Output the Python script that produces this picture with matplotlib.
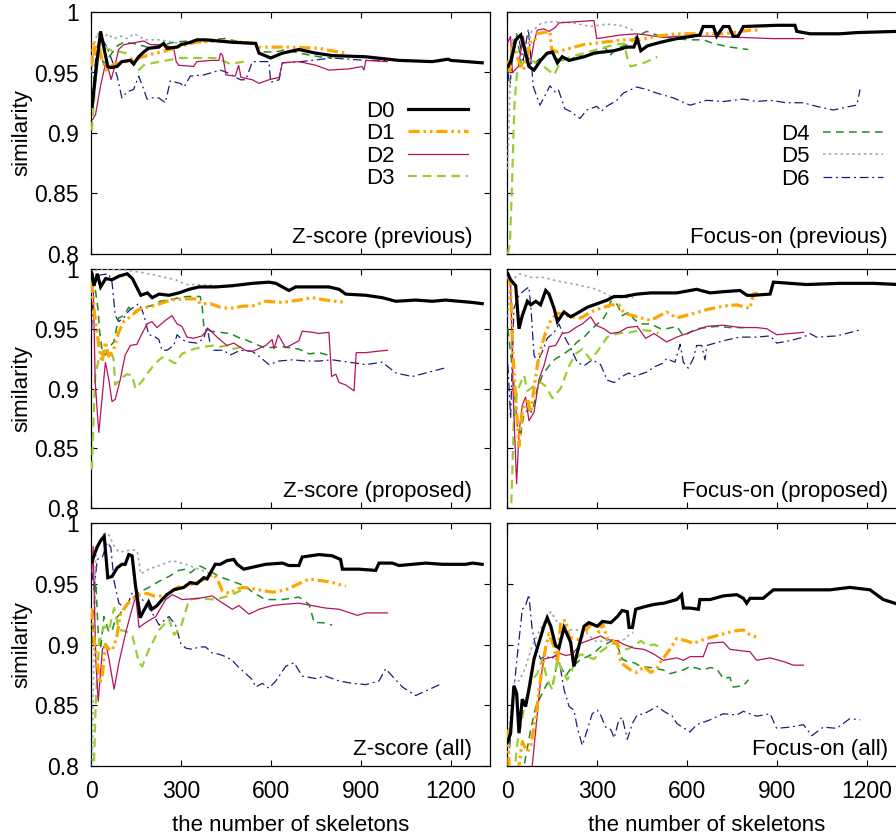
import matplotlib
matplotlib.use("Agg")
import matplotlib.pyplot as plt
from matplotlib.lines import Line2D

plt.rcParams['font.family'] = ['Liberation Sans', 'DejaVu Sans']
plt.rcParams['font.size'] = 16

# ---------------- data: Z-score (previous) ----------------
zprev_d0_x = [4, 18, 32, 45, 56, 64, 87, 103, 131, 142, 159, 176, 192, 226, 242, 253, 287, 300, 332, 353, 382, 471, 549, 560, 599, 638, 693, 749, 804, 916, 1027, 1138, 1190, 1200, 1304]
zprev_d0_y = [0.922, 0.955, 0.984, 0.968, 0.955, 0.954, 0.955, 0.959, 0.960, 0.957, 0.963, 0.967, 0.970, 0.971, 0.974, 0.970, 0.971, 0.973, 0.975, 0.977, 0.977, 0.975, 0.974, 0.966, 0.962, 0.966, 0.969, 0.966, 0.964, 0.963, 0.960, 0.959, 0.961, 0.960, 0.958]
zprev_d1_x = [2, 8, 15, 25, 35, 50, 65, 80, 100, 130, 160, 200, 250, 300, 350, 420, 500, 550, 560, 650, 760, 800, 850]
zprev_d1_y = [0.955, 0.975, 0.965, 0.975, 0.962, 0.952, 0.955, 0.957, 0.958, 0.960, 0.962, 0.965, 0.968, 0.972, 0.975, 0.976, 0.975, 0.974, 0.971, 0.971, 0.970, 0.968, 0.966]
zprev_d2_x = [5, 15, 31, 48, 59, 67, 81, 92, 109, 131, 153, 176, 198, 214, 242, 276, 284, 292, 342, 353, 403, 426, 432, 439, 450, 481, 492, 500, 538, 560, 593, 627, 638, 693, 749, 793, 860, 904, 910, 916, 988]
zprev_d2_y = [0.911, 0.915, 0.938, 0.957, 0.952, 0.944, 0.957, 0.969, 0.973, 0.974, 0.975, 0.976, 0.973, 0.973, 0.973, 0.970, 0.959, 0.956, 0.955, 0.959, 0.960, 0.960, 0.966, 0.964, 0.948, 0.947, 0.956, 0.946, 0.944, 0.941, 0.944, 0.946, 0.958, 0.959, 0.956, 0.952, 0.953, 0.955, 0.952, 0.960, 0.959]
zprev_d3_x = [3, 15, 27, 45, 70, 98, 116, 131, 159, 176, 209, 253, 298, 360, 420, 464, 509]
zprev_d3_y = [0.902, 0.945, 0.968, 0.971, 0.968, 0.967, 0.966, 0.963, 0.952, 0.956, 0.958, 0.960, 0.962, 0.962, 0.962, 0.957, 0.959]
zprev_d4_x = [3, 15, 26, 42, 64, 87, 109, 142, 187, 231, 276, 320, 376, 449, 500, 549, 560, 616, 649, 693, 760, 804]
zprev_d4_y = [0.920, 0.955, 0.972, 0.957, 0.964, 0.972, 0.975, 0.974, 0.971, 0.972, 0.975, 0.976, 0.977, 0.978, 0.975, 0.974, 0.967, 0.967, 0.969, 0.966, 0.963, 0.962]
zprev_d5_x = [3, 12, 22, 35, 55, 75, 100, 120, 143, 182, 230, 293, 350, 420]
zprev_d5_y = [0.950, 0.975, 0.983, 0.975, 0.982, 0.978, 0.980, 0.978, 0.982, 0.977, 0.977, 0.974, 0.975, 0.976]
zprev_d6_x = [3, 15, 31, 53, 70, 87, 103, 120, 142, 159, 170, 187, 200, 226, 248, 264, 298, 310, 331, 376, 431, 453, 498, 516, 538, 593, 599, 627, 638, 700, 804, 916, 1027, 1160]
zprev_d6_y = [0.925, 0.960, 0.981, 0.971, 0.960, 0.947, 0.929, 0.934, 0.936, 0.947, 0.940, 0.928, 0.929, 0.929, 0.925, 0.943, 0.941, 0.938, 0.947, 0.948, 0.952, 0.950, 0.944, 0.944, 0.959, 0.959, 0.942, 0.944, 0.958, 0.959, 0.962, 0.960, 0.960, 0.959]

# ---------------- data: Focus-on (previous) ----------------
fprev_d0_x = [3, 14, 29, 46, 57, 73, 90, 112, 134, 151, 168, 184, 207, 223, 257, 290, 323, 357, 401, 423, 434, 446, 468, 512, 566, 643, 654, 688, 699, 721, 740, 754, 770, 788, 899, 960, 966, 1010, 1110, 1166, 1305]
fprev_d0_y = [0.955, 0.960, 0.977, 0.981, 0.971, 0.955, 0.952, 0.960, 0.966, 0.967, 0.958, 0.963, 0.960, 0.961, 0.963, 0.966, 0.967, 0.968, 0.971, 0.971, 0.978, 0.968, 0.972, 0.975, 0.978, 0.981, 0.988, 0.988, 0.980, 0.988, 0.988, 0.980, 0.980, 0.988, 0.989, 0.989, 0.984, 0.982, 0.982, 0.983, 0.984]
fprev_d1_x = [3, 10, 21, 38, 54, 66, 77, 90, 101, 120, 143, 149, 166, 210, 254, 321, 388, 443, 499, 566, 654, 721, 810, 843]
fprev_d1_y = [0.960, 0.951, 0.975, 0.960, 0.952, 0.960, 0.975, 0.975, 0.982, 0.983, 0.984, 0.969, 0.967, 0.970, 0.973, 0.975, 0.977, 0.977, 0.980, 0.982, 0.982, 0.982, 0.985, 0.985]
fprev_d2_x = [3, 12, 18, 38, 54, 68, 77, 90, 101, 123, 140, 160, 173, 232, 290, 299, 379, 434, 523, 566, 666, 777, 888, 988]
fprev_d2_y = [0.975, 0.980, 0.950, 0.955, 0.980, 0.958, 0.956, 0.975, 0.985, 0.986, 0.984, 0.987, 0.991, 0.992, 0.993, 0.978, 0.981, 0.982, 0.979, 0.980, 0.980, 0.979, 0.978, 0.978]
fprev_d3_x = [3, 10, 17, 25, 34, 57, 90, 123, 157, 179, 212, 257, 301, 357, 390, 401, 412, 457, 501]
fprev_d3_y = [0.800, 0.810, 0.860, 0.925, 0.952, 0.959, 0.959, 0.955, 0.948, 0.959, 0.963, 0.966, 0.969, 0.973, 0.974, 0.962, 0.955, 0.958, 0.963]
fprev_d4_x = [3, 12, 32, 49, 71, 93, 121, 143, 166, 210, 232, 266, 299, 327, 343, 366, 410, 432, 466, 499, 554, 610, 654, 688, 743, 804]
fprev_d4_y = [0.950, 0.963, 0.982, 0.955, 0.962, 0.958, 0.964, 0.966, 0.961, 0.960, 0.964, 0.963, 0.966, 0.971, 0.964, 0.970, 0.974, 0.980, 0.984, 0.981, 0.978, 0.977, 0.977, 0.974, 0.971, 0.969]
fprev_d5_x = [2, 6, 12, 20, 32, 50, 66, 82, 116, 154, 221, 277, 332, 377, 421]
fprev_d5_y = [0.870, 0.900, 0.960, 0.978, 0.980, 0.975, 0.969, 0.984, 0.991, 0.992, 0.991, 0.988, 0.990, 0.989, 0.985]
fprev_d6_x = [3, 10, 21, 38, 54, 71, 82, 88, 110, 127, 143, 160, 171, 193, 210, 243, 266, 299, 315, 332, 366, 388, 432, 466, 499, 554, 610, 666, 721, 788, 832, 877, 932, 988, 1032, 1088, 1143, 1166, 1177]
fprev_d6_y = [0.950, 0.938, 0.975, 0.980, 0.960, 0.986, 0.955, 0.938, 0.923, 0.931, 0.939, 0.934, 0.936, 0.920, 0.918, 0.912, 0.919, 0.922, 0.918, 0.922, 0.927, 0.933, 0.938, 0.936, 0.933, 0.929, 0.923, 0.927, 0.926, 0.928, 0.926, 0.927, 0.925, 0.925, 0.922, 0.919, 0.922, 0.923, 0.936]

# ---------------- data: Z-score (proposed) ----------------
zprop_d0_x = [2, 10, 21, 32, 49, 70, 93, 121, 138, 166, 188, 204, 227, 260, 293, 327, 360, 416, 471, 538, 593, 616, 638, 660, 682, 749, 793, 827, 849, 916, 971, 1016, 1082, 1138, 1182, 1227, 1271, 1304]
zprop_d0_y = [0.997, 0.986, 0.996, 0.985, 0.992, 0.991, 0.994, 0.996, 0.992, 0.978, 0.980, 0.976, 0.979, 0.978, 0.980, 0.983, 0.985, 0.985, 0.986, 0.988, 0.989, 0.988, 0.985, 0.982, 0.985, 0.985, 0.985, 0.983, 0.979, 0.978, 0.976, 0.973, 0.974, 0.973, 0.974, 0.973, 0.972, 0.971]
zprop_d1_x = [3, 9, 11, 20, 29, 37, 48, 59, 76, 92, 109, 131, 159, 187, 220, 264, 309, 353, 364, 398, 431, 464, 509, 538, 582, 638, 693, 738, 782, 849]
zprop_d1_y = [0.990, 0.972, 0.964, 0.947, 0.931, 0.922, 0.939, 0.927, 0.933, 0.947, 0.956, 0.960, 0.966, 0.968, 0.970, 0.974, 0.975, 0.975, 0.971, 0.971, 0.968, 0.967, 0.969, 0.969, 0.973, 0.972, 0.974, 0.976, 0.974, 0.972]
zprop_d2_x = [3, 7, 14, 26, 37, 48, 59, 70, 81, 98, 114, 131, 153, 170, 187, 203, 220, 248, 270, 287, 303, 320, 342, 370, 392, 420, 453, 476, 514, 538, 582, 604, 610, 624, 649, 671, 693, 704, 738, 760, 793, 802, 816, 827, 849, 877, 884, 916, 949, 988]
zprop_d2_y = [0.998, 0.995, 0.905, 0.863, 0.892, 0.922, 0.908, 0.889, 0.891, 0.908, 0.928, 0.936, 0.937, 0.946, 0.954, 0.956, 0.951, 0.957, 0.961, 0.954, 0.952, 0.943, 0.942, 0.944, 0.950, 0.943, 0.936, 0.938, 0.932, 0.931, 0.936, 0.941, 0.933, 0.945, 0.934, 0.937, 0.940, 0.948, 0.947, 0.946, 0.947, 0.910, 0.912, 0.905, 0.903, 0.898, 0.930, 0.930, 0.931, 0.932]
zprop_d3_x = [3, 8, 14, 26, 37, 48, 64, 75, 81, 98, 120, 137, 148, 170, 192, 214, 237, 259, 281, 303, 342, 376, 409, 431, 453, 471, 504]
zprop_d3_y = [0.832, 0.870, 0.910, 0.925, 0.930, 0.932, 0.932, 0.925, 0.903, 0.908, 0.912, 0.911, 0.900, 0.906, 0.914, 0.921, 0.926, 0.924, 0.921, 0.929, 0.933, 0.935, 0.936, 0.935, 0.936, 0.933, 0.935]
zprop_d4_x = [3, 7, 18, 24, 29, 37, 48, 59, 76, 92, 109, 126, 142, 170, 198, 231, 276, 320, 364, 370, 376, 398, 431, 464, 498, 514, 549, 582, 638, 693, 727, 760, 804]
zprop_d4_y = [0.990, 0.997, 0.976, 0.965, 0.947, 0.932, 0.928, 0.934, 0.939, 0.959, 0.961, 0.968, 0.964, 0.968, 0.969, 0.973, 0.975, 0.977, 0.977, 0.970, 0.952, 0.948, 0.947, 0.946, 0.942, 0.941, 0.937, 0.934, 0.935, 0.933, 0.929, 0.930, 0.927]
zprop_d5_x = [2, 5, 10, 27, 60, 116, 171, 227, 282, 316, 360, 416]
zprop_d5_y = [0.975, 0.995, 0.998, 1.000, 1.000, 0.999, 0.997, 0.994, 0.991, 0.987, 0.987, 0.986]
zprop_d6_x = [2, 8, 14, 31, 59, 70, 81, 92, 109, 126, 142, 159, 170, 181, 192, 209, 226, 237, 253, 276, 287, 303, 320, 353, 376, 387, 398, 409, 442, 464, 498, 538, 560, 593, 627, 671, 716, 760, 804, 860, 916, 971, 1016, 1071, 1116, 1177]
zprop_d6_y = [0.950, 0.985, 0.992, 0.995, 0.996, 0.989, 0.961, 0.956, 0.959, 0.965, 0.968, 0.971, 0.966, 0.957, 0.945, 0.944, 0.941, 0.932, 0.932, 0.936, 0.945, 0.941, 0.939, 0.938, 0.942, 0.952, 0.936, 0.932, 0.932, 0.928, 0.932, 0.931, 0.927, 0.920, 0.923, 0.924, 0.923, 0.923, 0.924, 0.922, 0.920, 0.922, 0.913, 0.910, 0.913, 0.917]

# ---------------- data: Focus-on (proposed) ----------------
fprop_d0_x = [3, 12, 29, 40, 51, 68, 79, 96, 112, 129, 140, 157, 168, 190, 212, 234, 268, 301, 334, 357, 390, 434, 479, 499, 566, 632, 677, 721, 777, 800, 821, 877, 888, 943, 999, 1110, 1221, 1305]
fprop_d0_y = [0.996, 0.991, 0.986, 0.950, 0.961, 0.973, 0.970, 0.973, 0.970, 0.982, 0.979, 0.967, 0.956, 0.964, 0.960, 0.963, 0.968, 0.971, 0.974, 0.977, 0.977, 0.979, 0.980, 0.980, 0.980, 0.983, 0.980, 0.981, 0.982, 0.978, 0.978, 0.979, 0.989, 0.988, 0.987, 0.988, 0.988, 0.987]
fprop_d1_x = [3, 12, 18, 29, 40, 51, 68, 79, 90, 101, 112, 129, 146, 168, 190, 212, 246, 279, 312, 346, 373, 390, 434, 479, 532, 566, 610, 666, 721, 766, 810, 821, 835]
fprop_d1_y = [0.995, 0.987, 0.936, 0.892, 0.852, 0.881, 0.892, 0.880, 0.900, 0.919, 0.933, 0.947, 0.957, 0.963, 0.962, 0.960, 0.959, 0.964, 0.967, 0.970, 0.970, 0.963, 0.960, 0.957, 0.964, 0.959, 0.962, 0.966, 0.969, 0.970, 0.967, 0.979, 0.980]
fprop_d2_x = [3, 12, 21, 32, 40, 51, 62, 73, 90, 107, 123, 140, 162, 184, 207, 229, 251, 279, 296, 323, 346, 373, 401, 434, 462, 490, 532, 566, 610, 666, 721, 777, 832, 866, 899, 943, 988]
fprop_d2_y = [0.995, 0.989, 0.892, 0.820, 0.863, 0.886, 0.893, 0.873, 0.880, 0.908, 0.919, 0.935, 0.936, 0.946, 0.947, 0.951, 0.954, 0.960, 0.953, 0.950, 0.946, 0.947, 0.951, 0.952, 0.942, 0.946, 0.939, 0.943, 0.947, 0.952, 0.953, 0.951, 0.951, 0.950, 0.945, 0.946, 0.947]
fprop_d3_x = [5, 14, 23, 34, 46, 57, 68, 90, 112, 129, 151, 179, 207, 229, 251, 279, 307, 334, 368, 412, 446, 490, 505]
fprop_d3_y = [0.780, 0.800, 0.875, 0.897, 0.905, 0.911, 0.898, 0.902, 0.905, 0.902, 0.892, 0.900, 0.919, 0.929, 0.933, 0.924, 0.933, 0.943, 0.946, 0.947, 0.949, 0.948, 0.946]
fprop_d4_x = [3, 12, 23, 34, 46, 57, 73, 84, 101, 118, 140, 162, 184, 212, 234, 257, 279, 301, 318, 334, 346, 357, 368, 384, 407, 423, 446, 479, 512, 532, 566, 588, 632, 699, 743, 805]
fprop_d4_y = [0.950, 0.930, 0.903, 0.869, 0.862, 0.880, 0.882, 0.880, 0.900, 0.911, 0.919, 0.925, 0.928, 0.933, 0.939, 0.943, 0.949, 0.954, 0.957, 0.964, 0.973, 0.973, 0.970, 0.961, 0.964, 0.958, 0.954, 0.954, 0.950, 0.950, 0.952, 0.944, 0.950, 0.952, 0.951, 0.951]
fprop_d5_x = [3, 12, 43, 77, 121, 166, 232, 299, 354, 420]
fprop_d5_y = [0.960, 0.990, 0.996, 0.993, 0.993, 0.990, 0.987, 0.983, 0.976, 0.976]
fprop_d6_x = [3, 12, 23, 40, 57, 73, 80, 90, 101, 118, 134, 157, 173, 190, 212, 234, 257, 284, 312, 334, 357, 390, 407, 423, 446, 468, 490, 518, 532, 560, 577, 588, 604, 621, 632, 649, 660, 666, 721, 777, 832, 877, 899, 943, 988, 1010, 1032, 1099, 1177]
fprop_d6_y = [0.920, 0.875, 0.967, 0.978, 0.982, 0.985, 0.967, 0.928, 0.922, 0.931, 0.942, 0.947, 0.954, 0.944, 0.934, 0.922, 0.919, 0.924, 0.920, 0.907, 0.905, 0.911, 0.913, 0.910, 0.912, 0.914, 0.918, 0.921, 0.925, 0.922, 0.937, 0.922, 0.917, 0.925, 0.936, 0.936, 0.924, 0.936, 0.940, 0.943, 0.943, 0.944, 0.938, 0.940, 0.943, 0.946, 0.943, 0.944, 0.949]

# ---------------- data: Z-score (all) ----------------
zall_d0_x = [3, 7, 20, 31, 44, 56, 70, 87, 103, 114, 126, 137, 148, 159, 164, 176, 192, 203, 220, 237, 253, 276, 292, 309, 331, 353, 376, 387, 414, 431, 453, 476, 487, 509, 582, 638, 660, 693, 704, 760, 804, 832, 838, 893, 949, 960, 1004, 1027, 1116, 1171, 1249, 1271, 1304]
zall_d0_y = [0.968, 0.971, 0.980, 0.985, 0.989, 0.955, 0.956, 0.963, 0.966, 0.966, 0.974, 0.973, 0.949, 0.931, 0.922, 0.928, 0.935, 0.929, 0.932, 0.937, 0.941, 0.945, 0.946, 0.947, 0.951, 0.950, 0.955, 0.954, 0.966, 0.966, 0.969, 0.970, 0.966, 0.962, 0.966, 0.967, 0.965, 0.965, 0.972, 0.974, 0.973, 0.970, 0.962, 0.962, 0.961, 0.967, 0.967, 0.965, 0.967, 0.966, 0.966, 0.967, 0.966]
zall_d1_x = [2, 8, 15, 30, 38, 48, 60, 70, 85, 98, 120, 142, 164, 187, 209, 231, 253, 287, 320, 353, 387, 409, 426, 438, 464, 487, 509, 560, 604, 649, 693, 727, 782, 804, 849]
zall_d1_y = [0.930, 0.910, 0.895, 0.868, 0.875, 0.900, 0.896, 0.895, 0.905, 0.925, 0.933, 0.938, 0.941, 0.942, 0.940, 0.940, 0.941, 0.947, 0.948, 0.951, 0.955, 0.958, 0.951, 0.944, 0.942, 0.946, 0.947, 0.945, 0.943, 0.945, 0.950, 0.954, 0.952, 0.951, 0.948]
zall_d2_x = [3, 7, 16, 24, 38, 49, 60, 77, 93, 116, 132, 149, 160, 182, 216, 249, 271, 304, 360, 404, 427, 471, 493, 527, 560, 604, 638, 693, 738, 782, 827, 888, 916, 988]
zall_d2_y = [0.960, 0.981, 0.887, 0.853, 0.896, 0.901, 0.888, 0.863, 0.885, 0.910, 0.925, 0.940, 0.914, 0.918, 0.923, 0.937, 0.941, 0.937, 0.938, 0.940, 0.936, 0.929, 0.932, 0.925, 0.929, 0.932, 0.933, 0.934, 0.932, 0.930, 0.929, 0.924, 0.926, 0.926]
zall_d3_x = [5, 10, 16, 27, 43, 60, 77, 93, 116, 138, 160, 171, 193, 227, 260, 277, 299, 327, 360, 416, 471, 504]
zall_d3_y = [0.780, 0.802, 0.854, 0.901, 0.915, 0.912, 0.930, 0.912, 0.911, 0.907, 0.885, 0.882, 0.896, 0.912, 0.921, 0.908, 0.914, 0.937, 0.938, 0.937, 0.941, 0.945]
zall_d4_x = [4, 10, 16, 24, 32, 43, 60, 71, 82, 99, 116, 138, 160, 193, 227, 260, 293, 316, 332, 360, 393, 427, 471, 516, 538, 582, 638, 693, 727, 744, 771, 804]
zall_d4_y = [0.901, 0.930, 0.951, 0.910, 0.896, 0.923, 0.910, 0.912, 0.921, 0.926, 0.932, 0.938, 0.943, 0.947, 0.952, 0.956, 0.961, 0.962, 0.959, 0.965, 0.961, 0.956, 0.952, 0.948, 0.943, 0.937, 0.937, 0.939, 0.933, 0.918, 0.918, 0.916]
zall_d5_x = [3, 6, 10, 16, 27, 43, 60, 77, 93, 116, 138, 154, 166, 193, 227, 271, 316, 360, 404]
zall_d5_y = [0.780, 0.830, 0.900, 0.978, 0.985, 0.991, 0.990, 0.981, 0.976, 0.977, 0.978, 0.977, 0.958, 0.962, 0.965, 0.969, 0.966, 0.962, 0.958]
zall_d6_x = [3, 10, 21, 38, 54, 66, 77, 93, 116, 138, 149, 160, 182, 204, 227, 249, 260, 282, 299, 316, 338, 360, 382, 404, 427, 449, 471, 493, 516, 538, 549, 571, 593, 616, 649, 677, 704, 749, 782, 827, 871, 916, 960, 982, 1004, 1038, 1082, 1127, 1171]
zall_d6_y = [0.960, 0.945, 0.970, 0.972, 0.984, 0.980, 0.952, 0.934, 0.929, 0.943, 0.945, 0.940, 0.934, 0.926, 0.916, 0.921, 0.923, 0.916, 0.901, 0.897, 0.896, 0.898, 0.898, 0.893, 0.892, 0.890, 0.887, 0.881, 0.876, 0.871, 0.865, 0.868, 0.864, 0.870, 0.882, 0.885, 0.874, 0.872, 0.874, 0.870, 0.868, 0.867, 0.870, 0.880, 0.874, 0.865, 0.858, 0.863, 0.868]

# ---------------- data: Focus-on (all) ----------------
fall_d0_x = [3, 12, 23, 32, 40, 51, 62, 73, 90, 107, 123, 134, 146, 162, 173, 190, 201, 212, 223, 240, 257, 273, 301, 318, 346, 368, 384, 401, 407, 418, 429, 457, 490, 523, 566, 582, 588, 610, 638, 643, 677, 721, 766, 788, 799, 810, 854, 888, 943, 1010, 1077, 1143, 1210, 1254, 1305]
fall_d0_y = [0.820, 0.827, 0.866, 0.860, 0.827, 0.855, 0.849, 0.863, 0.888, 0.902, 0.915, 0.922, 0.915, 0.899, 0.897, 0.914, 0.908, 0.902, 0.882, 0.899, 0.915, 0.918, 0.915, 0.919, 0.918, 0.923, 0.928, 0.927, 0.914, 0.914, 0.929, 0.931, 0.933, 0.934, 0.937, 0.941, 0.930, 0.930, 0.929, 0.937, 0.937, 0.940, 0.941, 0.938, 0.934, 0.938, 0.938, 0.945, 0.945, 0.945, 0.945, 0.947, 0.945, 0.937, 0.933]
fall_d1_x = [3, 7, 23, 40, 51, 68, 79, 96, 107, 118, 129, 140, 157, 168, 179, 196, 207, 223, 240, 257, 273, 290, 307, 318, 334, 351, 368, 379, 396, 412, 434, 457, 479, 499, 510, 543, 566, 599, 621, 666, 710, 754, 788, 810, 843]
fall_d1_y = [0.830, 0.800, 0.790, 0.800, 0.820, 0.812, 0.817, 0.840, 0.863, 0.882, 0.898, 0.909, 0.898, 0.885, 0.919, 0.920, 0.906, 0.905, 0.904, 0.909, 0.915, 0.918, 0.910, 0.918, 0.905, 0.903, 0.901, 0.885, 0.882, 0.879, 0.877, 0.882, 0.877, 0.880, 0.885, 0.896, 0.905, 0.903, 0.901, 0.905, 0.908, 0.911, 0.912, 0.908, 0.905]
fall_d2_x = [70, 84, 100, 112, 123, 140, 157, 173, 196, 218, 246, 279, 312, 334, 368, 390, 423, 457, 490, 521, 566, 588, 610, 654, 671, 721, 743, 810, 832, 877, 921, 954, 988]
fall_d2_y = [0.770, 0.800, 0.840, 0.871, 0.888, 0.889, 0.890, 0.893, 0.891, 0.892, 0.901, 0.904, 0.907, 0.904, 0.903, 0.900, 0.897, 0.896, 0.892, 0.887, 0.889, 0.887, 0.890, 0.890, 0.901, 0.902, 0.896, 0.894, 0.887, 0.889, 0.886, 0.883, 0.883]
fall_d3_x = [20, 34, 51, 68, 84, 101, 118, 134, 151, 168, 184, 201, 218, 229, 246, 268, 290, 312, 334, 357, 379, 401, 423, 446, 468, 490, 510]
fall_d3_y = [0.780, 0.818, 0.840, 0.860, 0.871, 0.876, 0.888, 0.871, 0.863, 0.888, 0.878, 0.871, 0.880, 0.888, 0.892, 0.890, 0.888, 0.894, 0.898, 0.901, 0.898, 0.896, 0.899, 0.903, 0.899, 0.900, 0.898]
fall_d4_x = [50, 57, 79, 96, 118, 134, 151, 168, 179, 196, 212, 229, 246, 268, 290, 312, 334, 351, 368, 384, 401, 423, 446, 479, 501, 521, 543, 588, 610, 654, 677, 699, 721, 743, 754, 788, 805]
fall_d4_y = [0.770, 0.800, 0.830, 0.849, 0.860, 0.868, 0.866, 0.885, 0.882, 0.874, 0.880, 0.884, 0.888, 0.890, 0.893, 0.898, 0.901, 0.903, 0.899, 0.888, 0.886, 0.885, 0.882, 0.881, 0.880, 0.879, 0.876, 0.879, 0.882, 0.879, 0.881, 0.880, 0.872, 0.873, 0.865, 0.866, 0.871]
fall_d5_x = [3, 15, 25, 40, 60, 85, 110, 146, 168, 212, 257, 279, 301, 343, 368, 390, 412, 421]
fall_d5_y = [0.820, 0.850, 0.870, 0.870, 0.880, 0.900, 0.912, 0.927, 0.918, 0.912, 0.912, 0.906, 0.902, 0.904, 0.903, 0.904, 0.909, 0.910]
fall_d6_x = [3, 12, 23, 34, 51, 62, 73, 84, 96, 112, 129, 146, 162, 173, 190, 207, 223, 234, 251, 268, 284, 301, 312, 329, 346, 357, 373, 384, 401, 418, 434, 457, 479, 501, 523, 551, 566, 610, 632, 677, 721, 766, 788, 832, 877, 899, 943, 988, 1016, 1054, 1099, 1143, 1177]
fall_d6_y = [0.800, 0.825, 0.863, 0.890, 0.929, 0.932, 0.941, 0.912, 0.898, 0.888, 0.891, 0.888, 0.891, 0.888, 0.863, 0.849, 0.846, 0.832, 0.817, 0.830, 0.843, 0.846, 0.842, 0.832, 0.830, 0.823, 0.838, 0.840, 0.822, 0.835, 0.842, 0.843, 0.846, 0.849, 0.845, 0.841, 0.835, 0.828, 0.834, 0.838, 0.843, 0.842, 0.845, 0.841, 0.843, 0.831, 0.832, 0.834, 0.825, 0.832, 0.831, 0.839, 0.838]

series_names = ['D0', 'D1', 'D2', 'D3', 'D4', 'D5', 'D6']
panel_titles = ['Z-score (previous)', 'Focus-on (previous)',
                'Z-score (proposed)', 'Focus-on (proposed)',
                'Z-score (all)', 'Focus-on (all)']
x_ticks = [0, 300, 600, 900, 1200]
x_tick_labels = ['0', '300', '600', '900', '1200']
y_ticks = [0.8, 0.85, 0.9, 0.95, 1.0]
y_tick_labels = ['0.8', '0.85', '0.9', '0.95', '1']
x_label = 'the number of skeletons'
y_label = 'similarity'

panels = [
    [(zprev_d0_x, zprev_d0_y), (zprev_d1_x, zprev_d1_y), (zprev_d2_x, zprev_d2_y), (zprev_d3_x, zprev_d3_y),
     (zprev_d4_x, zprev_d4_y), (zprev_d5_x, zprev_d5_y), (zprev_d6_x, zprev_d6_y)],
    [(fprev_d0_x, fprev_d0_y), (fprev_d1_x, fprev_d1_y), (fprev_d2_x, fprev_d2_y), (fprev_d3_x, fprev_d3_y),
     (fprev_d4_x, fprev_d4_y), (fprev_d5_x, fprev_d5_y), (fprev_d6_x, fprev_d6_y)],
    [(zprop_d0_x, zprop_d0_y), (zprop_d1_x, zprop_d1_y), (zprop_d2_x, zprop_d2_y), (zprop_d3_x, zprop_d3_y),
     (zprop_d4_x, zprop_d4_y), (zprop_d5_x, zprop_d5_y), (zprop_d6_x, zprop_d6_y)],
    [(fprop_d0_x, fprop_d0_y), (fprop_d1_x, fprop_d1_y), (fprop_d2_x, fprop_d2_y), (fprop_d3_x, fprop_d3_y),
     (fprop_d4_x, fprop_d4_y), (fprop_d5_x, fprop_d5_y), (fprop_d6_x, fprop_d6_y)],
    [(zall_d0_x, zall_d0_y), (zall_d1_x, zall_d1_y), (zall_d2_x, zall_d2_y), (zall_d3_x, zall_d3_y),
     (zall_d4_x, zall_d4_y), (zall_d5_x, zall_d5_y), (zall_d6_x, zall_d6_y)],
    [(fall_d0_x, fall_d0_y), (fall_d1_x, fall_d1_y), (fall_d2_x, fall_d2_y), (fall_d3_x, fall_d3_y),
     (fall_d4_x, fall_d4_y), (fall_d5_x, fall_d5_y), (fall_d6_x, fall_d6_y)],
]

# ---------------- styles ----------------
styles = [
    dict(color='black', lw=2.3, ls='-'),
    dict(color='#FFA500', lw=2.3, ls=(0, (3.5, 1.2, 0.8, 1.2, 0.8, 1.2))),
    dict(color='#B5125F', lw=0.9, ls='-'),
    dict(color='#9ACD32', lw=1.6, ls=(0, (4, 2.5))),
    dict(color='#1E8C1E', lw=1.1, ls=(0, (5, 3.5))),
    dict(color='#9EA8A8', lw=1.2, ls=(0, (1.5, 2))),
    dict(color='#1C1C78', lw=0.9, ls=(0, (7, 3, 1.5, 3))),
]

W, H = 896, 838
fig = plt.figure(figsize=(W / 100, H / 100), dpi=100)
col_left = [91, 507]
col_w = 399
rows = [(12, 254), (269, 508), (523, 766)]

axes = []
for r, (top, bot) in enumerate(rows):
    for c in range(2):
        ax = fig.add_axes([col_left[c] / W, 1 - bot / H, col_w / W, (bot - top) / H])
        axes.append((r, c, ax))

for idx, (r, c, ax) in enumerate(axes):
    data = panels[idx]
    for k in range(6, -1, -1):
        xs, ys = data[k]
        st = styles[k]
        ax.plot(xs, ys, color=st['color'], lw=st['lw'], ls=st['ls'],
                solid_joinstyle='miter', zorder=3 + (6 - k))
    ax.set_xlim(0, 1330)
    ax.set_ylim(0.8, 1.0)
    ax.set_xticks(x_ticks)
    ax.set_yticks(y_ticks)
    ax.tick_params(direction='in', length=4.5, width=0.8, top=True, right=True,
                   labelsize=16.5, colors='black')
    ax.tick_params(axis='y', pad=9)
    ax.tick_params(axis='x', pad=10)
    if c == 0:
        ax.set_yticklabels(y_tick_labels)
        ax.set_ylabel(y_label, fontsize=16)
        ax.yaxis.set_label_coords(-0.148, 0.5)
    else:
        ax.set_yticklabels([])
    if r == 2:
        ax.set_xticklabels(x_tick_labels)
        ax.set_xlabel(x_label, fontsize=16)
        ax.xaxis.set_label_coords(0.5, -0.20)
    else:
        ax.set_xticklabels([])
    for sp in ax.spines.values():
        sp.set_linewidth(0.9)
    ax.text(0.955, 0.047, panel_titles[idx], transform=ax.transAxes,
            ha='right', va='baseline', fontsize=16, zorder=20)

    if idx in (0, 1):
        ks = [0, 1, 2, 3] if idx == 0 else [4, 5, 6]
        handles = [Line2D([], [], color=styles[k]['color'], lw=styles[k]['lw'], ls=styles[k]['ls'])
                   for k in ks]
        labels = [series_names[k] for k in ks]
        anchor = (0.945, 0.634) if idx == 0 else (0.942, 0.539)
        ax.legend(handles, labels, loc='upper right', bbox_to_anchor=anchor,
                  frameon=False, markerfirst=False, fontsize=16,
                  handlelength=2.7, handletextpad=0.6, labelspacing=0.07,
                  borderpad=0, borderaxespad=0)

fig.savefig('out.png', dpi=100)
